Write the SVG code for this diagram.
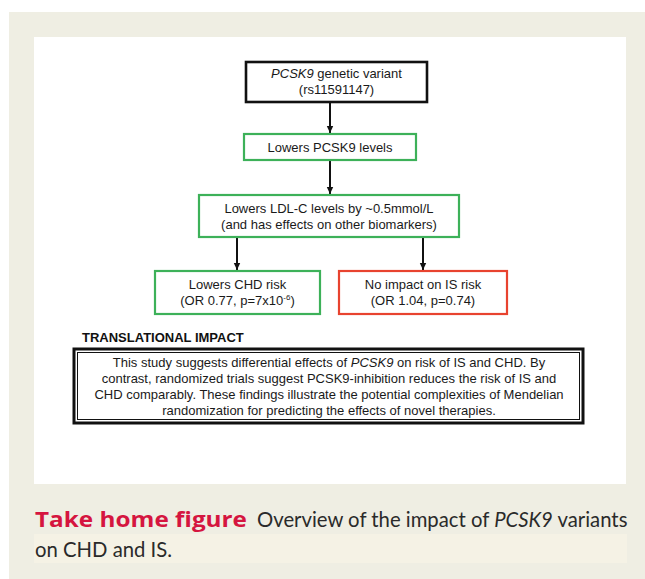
<svg xmlns="http://www.w3.org/2000/svg" width="645" height="579" viewBox="0 0 645 579">
<style>
.t{font-family:"Liberation Sans",Arial,sans-serif;font-size:13px;fill:#1a1a1a;text-anchor:middle}
.g{fill:#fff;stroke:#3db159;stroke-width:2.2}
.r{fill:#fff;stroke:#e8432f;stroke-width:2.2}
.k{fill:#fff;stroke:#111;stroke-width:2.6}
.c{stroke:#111;stroke-width:2;fill:none}
.cap{font-family:Lato,"Open Sans",sans-serif;font-size:20.3px;fill:#2a2a2a}
.capb{font-family:"Open Sans",Lato,sans-serif;font-size:22px;font-weight:bold;fill:#d5153f}
</style>
<defs>
<marker id="ah" markerWidth="8" markerHeight="8" refX="7" refY="4" orient="auto" markerUnits="userSpaceOnUse">
<path d="M0,0.8 L7,4 L0,7.2 Z" fill="#111"/>
</marker>
</defs>
<rect x="0" y="0" width="645" height="579" fill="#fff"/>
<rect x="9" y="12" width="636" height="567" fill="#efeee3"/>
<rect x="34" y="37" width="592" height="447" fill="#fff"/>
<rect x="34" y="534" width="593" height="29" fill="#f5f2e5"/>
<g id="connectors">
<line class="c" x1="330" y1="102" x2="330" y2="133" marker-end="url(#ah)"/>
<line class="c" x1="330" y1="160" x2="330" y2="194" marker-end="url(#ah)"/>
<line class="c" x1="237" y1="237" x2="237" y2="270" marker-end="url(#ah)"/>
<line class="c" x1="423" y1="237" x2="423" y2="270" marker-end="url(#ah)"/>
</g>
<g id="n1">
<rect class="k" x="246" y="62" width="181" height="40"/>
<text class="t" x="336.5" y="78"><tspan font-style="italic">PCSK9</tspan> genetic variant</text>
<text class="t" x="336.5" y="94">(rs11591147)</text>
</g>
<g id="n2">
<rect class="g" x="244" y="134" width="172" height="26"/>
<text class="t" x="330" y="151.5">Lowers PCSK9 levels</text>
</g>
<g id="n3">
<rect class="g" x="199" y="195" width="260" height="42"/>
<text class="t" x="329" y="212.5">Lowers LDL-C levels by ~0.5mmol/L</text>
<text class="t" x="329" y="228.5">(and has effects on other biomarkers)</text>
</g>
<g id="n4">
<rect class="g" x="155" y="271" width="165" height="43"/>
<text class="t" x="237.5" y="288.5">Lowers CHD risk</text>
<text class="t" x="237.5" y="304.5">(OR 0.77, p=7x10<tspan font-size="8" dy="-5">-6</tspan><tspan dy="5">)</tspan></text>
</g>
<g id="n5">
<rect class="r" x="339" y="271" width="168" height="43"/>
<text class="t" x="423" y="288.5">No impact on IS risk</text>
<text class="t" x="423" y="304.5">(OR 1.04, p=0.74)</text>
</g>
<text x="82" y="342" style="font-family:'Liberation Sans',Arial,sans-serif;font-size:13px;font-weight:bold;fill:#111">TRANSLATIONAL IMPACT</text>
<g id="n6">
<rect x="74" y="349" width="509" height="74" fill="#fff" stroke="#111" stroke-width="3"/>
<rect x="77.5" y="352.5" width="502" height="67" fill="none" stroke="#111" stroke-width="1"/>
<text class="t" x="329" y="366.5">This study suggests differential effects of <tspan font-style="italic">PCSK9</tspan> on risk of IS and CHD. By</text>
<text class="t" x="329" y="382.5">contrast, randomized trials suggest PCSK9-inhibition reduces the risk of IS and</text>
<text class="t" x="329" y="398.5">CHD comparably. These findings illustrate the potential complexities of Mendelian</text>
<text class="t" x="329" y="414.5">randomization for predicting the effects of novel therapies.</text>
</g>
<text class="capb" x="35" y="527" textLength="212" lengthAdjust="spacingAndGlyphs">Take home figure</text>
<text class="cap" x="257" y="527">Overview of the impact of <tspan font-style="italic">PCSK9</tspan> variants</text>
<text class="cap" x="35" y="557">on CHD and IS.</text>
</svg>
